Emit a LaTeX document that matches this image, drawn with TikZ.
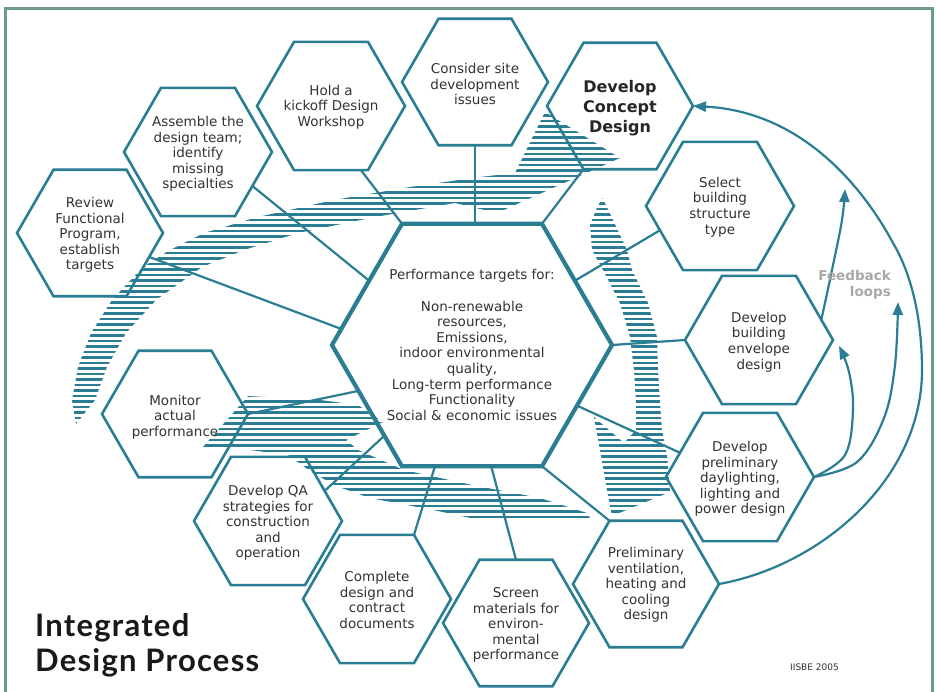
\documentclass[tikz,border=0pt]{standalone}
\usepackage{fontspec}
\setmainfont{DejaVu Sans}
\newfontfamily\titlefont{Lato}[LetterSpace=4]
\usetikzlibrary{shapes.geometric,arrows.meta,calc}
\definecolor{teal1}{HTML}{2A7D92}
\definecolor{frame1}{HTML}{6E9A8A}
\definecolor{txt1}{HTML}{333333}
\definecolor{fbgray}{HTML}{A8A8A8}
\newcommand\hatchfill{\foreach \yy in {0,5.5,...,690}{\draw[teal1,line width=2.7pt] (0,\yy) -- (937,\yy);}}
\begin{document}
\begin{tikzpicture}[x=1pt,y=-1pt,
  hex/.style={regular polygon,regular polygon sides=6,draw=teal1,line width=2.6pt,inner sep=0pt,outer sep=0pt,minimum size=#1},
  hex/.default=148,
  htext/.style={font=\fontsize{13.5}{15.6}\selectfont,text=txt1,align=center,inner sep=0pt},
  conn/.style={draw=teal1,line width=2.2pt},
  fbline/.style={draw=teal1,line width=2.2pt,-{Triangle[length=13pt,width=10pt]}},
]
\useasboundingbox (0,0) rectangle (937,691);
\fill[white] (0,0) rectangle (937,691);
\draw[frame1,line width=3pt] (5,8) rectangle (932,700);

% hatched arrows
\begin{scope}
\clip (76,424) -- (72,400) -- (78,367) -- (91,333) -- (112,300) -- (143,267) -- (170,250) -- (204,233) -- (258,217) -- (334,200) -- (410,187) -- (480,177) -- (515,173) -- (545,112) -- (620,158) -- (497,213) -- (455,203) -- (375,217) -- (298,233) -- (244,250) -- (202,267) -- (156,300) -- (126,333) -- (107,367) -- (95,400) -- cycle;
\hatchfill
\end{scope}
\begin{scope}
\clip (602,198) -- (596,210) -- (590,225) -- (592,250) -- (603,270) -- (620,303) -- (630,337) -- (634,370) -- (636,403) -- (636,430) -- (624,443) -- (594,417) -- (600,450) -- (607,490) -- (612,516) -- (670,492) -- (667,455) -- (662,430) -- (660,403) -- (658,370) -- (657,337) -- (648,303) -- (632,270) -- (627,250) -- (613,220) -- (605,203) -- cycle;
\hatchfill
\end{scope}
\begin{scope}
\clip (203,447) -- (248,396) -- (320,400) -- (358,405) -- (383,422) -- (346,440) -- (358,450) -- (404,470) -- (472,485) -- (540,498) -- (587,513) -- (590,518) -- (560,520) -- (480,520) -- (438,511) -- (370,498) -- (336,486) -- (310,471) -- (288,455) -- (250,450) -- cycle;
\hatchfill
\end{scope}

% hexagons
\node[hex=146] (rfp) at (90,233) {};
\node[hex=148] (asm) at (198,152) {};
\node[hex=148] (kick) at (331,106) {};
\node[hex=146] (site) at (475,82) {};
\node[hex=146] (concept) at (620,106) {};
\node[hex=148] (struct) at (720,206) {};
\node[hex=148] (env) at (759,340) {};
\node[hex=148] (day) at (740,477) {};
\node[hex=146] (vent) at (646,584) {};
\node[hex=146] (screen) at (516,623) {};
\node[hex=148] (complete) at (377,599) {};
\node[hex=148] (qa) at (268,521) {};
\node[hex=146] (monitor) at (175,414) {};
\node[hex=280,line width=4.2pt] (center) at (472,345) {};

% connectors
\draw[conn] (site.south) -- (site.south |- center.north);
\draw[conn] (kick.-65) -- (center.120);
\draw[conn] (asm.-32) -- (center.148);
\draw[conn] (rfp.-22) -- (center.173);
\draw[conn] (monitor.0) -- (center.-158);
\draw[conn] (qa.28) -- (center.-134);
\draw[conn] (complete.60) -- (center.-107);
\draw[conn] (screen.north) -- (center.-81);
\draw[conn] (vent.120) -- (center.-60);
\draw[conn] (day.158) -- (center.-30);
\draw[conn] (env.180) -- (center.0);
\draw[conn] (struct.-158) -- (center.32);
\draw[conn] (concept.-120) -- (center.60);

% feedback loops
\coordinate (fbA1) at (922,370);
\coordinate (fbA2) at (893,243);
\coordinate (fbB) at (839,346);
\coordinate (fbC) at (898,302);
\coordinate (fbD) at (845,189);
\draw[fbline] (vent.0) .. controls (820,566) and (922,480) .. (fbA1)
  .. controls (922,320) and (912,275) .. (fbA2)
  .. controls (870,200) and (810,112) .. (concept.0);
\draw[fbline] plot[smooth,tension=0.6] coordinates {(day.0) (845,455) (853,410) (849,372) (fbB)};
\draw[fbline] plot[smooth,tension=0.6] coordinates {(day.0) (857,462) (884,418) (895,365) (fbC)};
\draw[fbline] plot[smooth,tension=0.6] coordinates {(env.18) (832,270) (842,220) (fbD)};
\node[font=\bfseries\fontsize{13.5}{16}\selectfont,text=fbgray,align=right,anchor=east,inner sep=0pt] (fbl) at (891,285) {Feedback\\loops};

% texts
\node[htext] (trfp) at (90,235) {Review\\Functional\\Program,\\establish\\targets};
\node[htext] (tasm) at (198,154) {Assemble the\\design team;\\identify\\missing\\specialties};
\node[htext] (tkick) at (331,107) {Hold a\\kickoff Design\\Workshop};
\node[htext] (tsite) at (475,84) {Consider site\\development\\issues};
\node[htext,font=\bfseries\fontsize{16}{20}\selectfont,text=black!85] (tconcept) at (620,108) {Develop\\Concept\\Design};
\node[htext] (tstruct) at (720,207) {Select\\building\\structure\\type};
\node[htext] (tenv) at (759,342) {Develop\\building\\envelope\\design};
\node[htext] (tday) at (740,479) {Develop\\preliminary\\daylighting,\\lighting and\\power design};
\node[htext] (tvent) at (646,585) {Preliminary\\ventilation,\\heating and\\cooling\\design};
\node[htext] (tscreen) at (516,625) {Screen\\materials for\\environ-\\mental\\performance};
\node[htext] (tcomplete) at (377,600) {Complete\\design and\\contract\\documents};
\node[htext] (tqa) at (268,523) {Develop QA\\strategies for\\construction\\and\\operation};
\node[htext] (tmonitor) at (175,417) {Monitor\\actual\\performance};
\node[htext] (tcenter) at (472,345) {Performance targets for:\\[15.6pt]Non-renewable\\resources,\\Emissions,\\indoor environmental\\quality,\\Long-term performance\\Functionality\\Social \& economic issues};

\node[font=\fontsize{9}{10}\selectfont,text=txt1,anchor=west,inner sep=0pt] (iisbe) at (790,667) {IISBE 2005};
\node[font=\titlefont\bfseries\fontsize{31}{35}\selectfont,text=black!90,align=left,anchor=north west,inner sep=0pt] (title) at (35,613) {Integrated\\Design Process};
\end{tikzpicture}
\end{document}
